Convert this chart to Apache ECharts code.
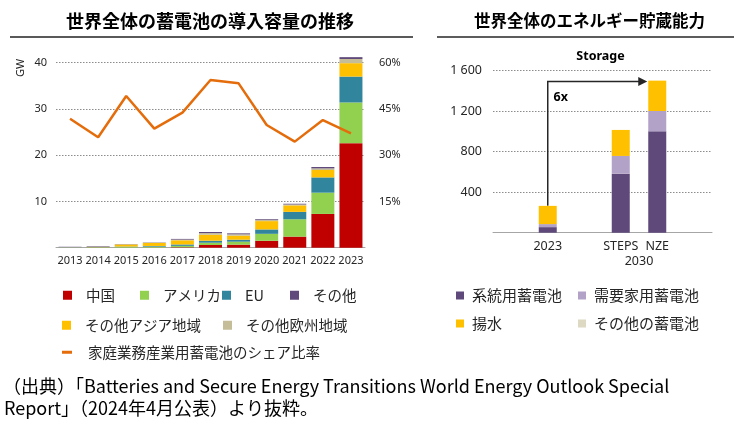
<!DOCTYPE html>
<html><head><meta charset="utf-8">
<script src="https://cdn.jsdelivr.net/npm/echarts@6/dist/echarts.min.js"></script>
<style>html,body{margin:0;padding:0;background:#fff}#c{width:734px;height:425px}</style>
</head><body><div id="c"></div>
<script>
// ---- Left chart data (GW) ----
const years = ['2013','2014','2015','2016','2017','2018','2019','2020','2021','2022','2023'];
const china     = [0,    0,    0.02, 0.03, 0.1,  0.58, 0.65, 1.5,  2.4,  7.3,  22.6];
const usa       = [0.03, 0.05, 0.15, 0.2,  0.3,  0.5,  0.65, 1.5,  3.75, 4.6,  8.8];
const eu        = [0.03, 0.05, 0.08, 0.15, 0.3,  0.43, 0.43, 0.95, 1.6,  3.3,  5.6];
const otherAsia = [0,    0.05, 0.45, 0.65, 0.9,  1.3,  0.87, 1.8,  1.4,  1.6,  2.9];
const otherEur  = [0.07, 0.1,  0.06, 0.07, 0.15, 0.35, 0.3,  0.3,  0.2,  0.35, 0.9];
const others    = [0.07, 0.1,  0.04, 0.05, 0.15, 0.23, 0.2,  0.15, 0.15, 0.3,  0.4];
const share     = [41.8, 35.8, 49.2, 38.6, 43.8, 54.4, 53.3, 39.8, 34.4, 41.4, 37.1];
const gwTicks = [10, 20, 30, 40];
const shareTicks = [15, 30, 45, 60];

// ---- Right chart data ----
const storageCats = [' ', '2023', '  ', 'STEPS', 'NZE', '   '];
const gridBatt  = [null, 55,  null, 583, 1001, null];
const btmBatt   = [null, 30,  null, 175, 201,  null];
const pumped    = [null, 180, null, 257, 300,  null];
const otherStor = [null, 0,   null, 0,   0,    null];
const storageTicks = [400, 800, 1200, 1600];

const FONT = "'Noto Sans CJK JP', 'Noto Sans', sans-serif";
const NUMF = "'Noto Sans', 'Noto Sans CJK JP', sans-serif";
const C = {china:'#C00000', usa:'#92D050', eu:'#31859C', other:'#604A7B', asia:'#FFC000', eur:'#C4BD97', line:'#E46C0A',
  grid:'#5F497A', btm:'#B3A2C7', pump:'#FFC000', ost:'#DDD9C3'};

const chart = echarts.init(document.getElementById('c'), null, {renderer:'canvas'});

function barS(name, data, color, xi, yi, stack, w){
  return {name, type:'bar', stack, data, xAxisIndex:xi, yAxisIndex:yi, barWidth:w, clip:false,
    itemStyle:{color}, emphasis:{disabled:true}, animation:false};
}
function leg(name, left, top, opts){
  return Object.assign({data:[name], left, top, padding:0, itemWidth:9, itemHeight:9, icon:'rect', selectedMode:false,
    textStyle:{fontFamily:FONT, fontSize:14.5, color:'#262626', padding:[0,0,0,9]}}, opts||{});
}
const dotted = {show:true, lineStyle:{type:[1.5,1.5], color:'#8c8c8c', width:1}};

const option = {
  animation:false,
  title:[
    {text:'世界全体の蓄電池の導入容量の推移', left:66, top:12, padding:0, textStyle:{fontFamily:FONT, fontSize:18, fontWeight:'bold', color:'#000'}},
    {text:'世界全体のエネルギー貯蔵能力', left:474, top:12, padding:0, textStyle:{fontFamily:FONT, fontSize:16.5, fontWeight:'bold', color:'#000'}}
  ],
  grid:[
    {left:56, top:62.7, width:309, height:185, containLabel:false},
    {left:493, top:70.7, width:219, height:162, containLabel:false}
  ],
  xAxis:[
    {type:'category', gridIndex:0, data:years, axisTick:{show:false},
      axisLine:{lineStyle:{color:'#a6a6a6', width:1}},
      axisLabel:{fontFamily:NUMF, fontSize:11, color:'#262626', margin:8, interval:0}},
    {type:'category', gridIndex:1, data:storageCats, axisTick:{show:false},
      axisLine:{lineStyle:{color:'#a6a6a6', width:1}},
      axisLabel:{fontFamily:NUMF, fontSize:12.5, color:'#262626', margin:7, interval:0}}
  ],
  yAxis:[
    {type:'value', gridIndex:0, min:0, max:gwTicks[gwTicks.length-1], interval:gwTicks[0],
      axisLine:{show:false}, axisTick:{show:false}, splitLine:dotted,
      axisLabel:{fontFamily:NUMF, fontSize:11, color:'#262626', margin:9, formatter:v=>gwTicks.includes(v)?String(v):''}},
    {type:'value', gridIndex:0, min:0, max:shareTicks[shareTicks.length-1], interval:shareTicks[0], position:'right',
      axisLine:{show:false}, axisTick:{show:false}, splitLine:{show:false},
      axisLabel:{fontFamily:NUMF, fontSize:11, color:'#262626', margin:14, formatter:v=>shareTicks.includes(v)?v+'%':''}},
    {type:'value', gridIndex:1, min:0, max:storageTicks[storageTicks.length-1], interval:storageTicks[0],
      axisLine:{show:false}, axisTick:{show:false}, splitLine:dotted,
      axisLabel:{fontFamily:NUMF, fontSize:12.5, color:'#262626', margin:11,
        formatter:v=>storageTicks.includes(v)?(v>=1000?String(v).replace(/(\d)(\d{3})$/,'$1 $2'):String(v)):''}}
  ],
  legend:[
    leg('中国', 63, 288),
    leg('アメリカ', 140, 288),
    leg('EU', 222, 288),
    leg('その他', 290, 288),
    leg('その他アジア地域', 62, 318),
    leg('その他欧州地域', 223, 318),
    leg('家庭業務産業用蓄電池のシェア比率', 62, 345, {itemWidth:10, itemHeight:3, textStyle:{fontFamily:FONT, fontSize:14.5, color:'#262626', padding:[0,0,0,11]}}),
    leg('系統用蓄電池', 456, 288, {itemWidth:8, itemHeight:8, textStyle:{fontFamily:FONT, fontSize:15, color:'#262626', padding:[0,0,0,3]}}),
    leg('需要家用蓄電池', 578, 288, {itemWidth:8, itemHeight:8, textStyle:{fontFamily:FONT, fontSize:15, color:'#262626', padding:[0,0,0,3]}}),
    leg('揚水', 456, 316, {itemWidth:8, itemHeight:8, textStyle:{fontFamily:FONT, fontSize:15, color:'#262626', padding:[0,0,0,3]}}),
    leg('その他の蓄電池', 578, 316, {itemWidth:8, itemHeight:8, textStyle:{fontFamily:FONT, fontSize:15, color:'#262626', padding:[0,0,0,3]}})
  ],
  series:[
    barS('中国', china, C.china, 0, 0, 'a', 23),
    barS('アメリカ', usa, C.usa, 0, 0, 'a', 23),
    barS('EU', eu, C.eu, 0, 0, 'a', 23),
    barS('その他アジア地域', otherAsia, C.asia, 0, 0, 'a', 23),
    barS('その他欧州地域', otherEur, C.eur, 0, 0, 'a', 23),
    barS('その他', others, C.other, 0, 0, 'a', 23),
    {name:'家庭業務産業用蓄電池のシェア比率', type:'line', data:share, xAxisIndex:0, yAxisIndex:1,
      symbol:'none', lineStyle:{color:C.line, width:2.5}, itemStyle:{color:C.line}, emphasis:{disabled:true}, z:5},
    barS('系統用蓄電池', gridBatt, C.grid, 1, 2, 'b', 18),
    barS('需要家用蓄電池', btmBatt, C.btm, 1, 2, 'b', 18),
    barS('揚水', pumped, C.pump, 1, 2, 'b', 18),
    barS('その他の蓄電池', otherStor, C.ost, 1, 2, 'b', 18)
  ]
};
chart.setOption(option);

// annotations positioned from data via the axes
const tot = i => (gridBatt[i]||0)+(btmBatt[i]||0)+(pumped[i]||0)+(otherStor[i]||0);
const pA = chart.convertToPixel({xAxisIndex:1, yAxisIndex:2}, [1, tot(1)]);
const pB = chart.convertToPixel({xAxisIndex:1, yAxisIndex:2}, [4, tot(4)]);
const pS = chart.convertToPixel({xAxisIndex:1, yAxisIndex:2}, [3, 0]);
const ay = pB[1] + 1;
const tipX = pB[0] - 10;
const gTop = chart.convertToPixel({xAxisIndex:1, yAxisIndex:2}, [1, storageTicks[storageTicks.length-1]]);
const gRect = chart.getModel().getComponent('grid', 1).coordinateSystem.getRect();

chart.setOption({graphic:[
  {type:'line', shape:{x1:10, y1:37, x2:413, y2:37}, style:{stroke:'#595959', lineWidth:2}},
  {type:'line', shape:{x1:437, y1:37, x2:734, y2:37}, style:{stroke:'#262626', lineWidth:1.5}},
  {type:'text', x:21, y:68, rotation:Math.PI/2, style:{text:'GW', font:"11px "+NUMF, fill:'#262626', align:'center', verticalAlign:'middle'}},
  {type:'text', x:gRect.x + gRect.width/2 - 2, y:gTop[1]-14, style:{text:'Storage', font:"bold 12.5px "+NUMF, fill:'#000', align:'center', verticalAlign:'middle'}},
  {type:'polyline', shape:{points:[[pA[0], pA[1]], [pA[0], ay], [tipX-7, ay]]}, style:{stroke:'#262626', lineWidth:1.5, fill:null}},
  {type:'polygon', shape:{points:[[tipX-9, ay-4.5],[tipX, ay],[tipX-9, ay+4.5]]}, style:{fill:'#262626'}},
  {type:'text', x:pA[0]+13, y:ay+16, style:{text:'6x', font:"bold 12.5px "+NUMF, fill:'#000', align:'center', verticalAlign:'middle'}},
  {type:'text', x:(pS[0]+pB[0])/2, y:pS[1]+29, style:{text:'2030', font:"12.5px "+NUMF, fill:'#262626', align:'center', verticalAlign:'middle'}},
  {type:'text', x:3, y:386, style:{text:'（出典）「Batteries and Secure Energy Transitions World Energy Outlook Special', font:"18px "+FONT, fill:'#000', verticalAlign:'middle'}},
  {type:'text', x:4, y:408, style:{text:'Report」（2024年4月公表）より抜粋。', font:"18px "+FONT, fill:'#000', verticalAlign:'middle'}}
]});
</script></body></html>
